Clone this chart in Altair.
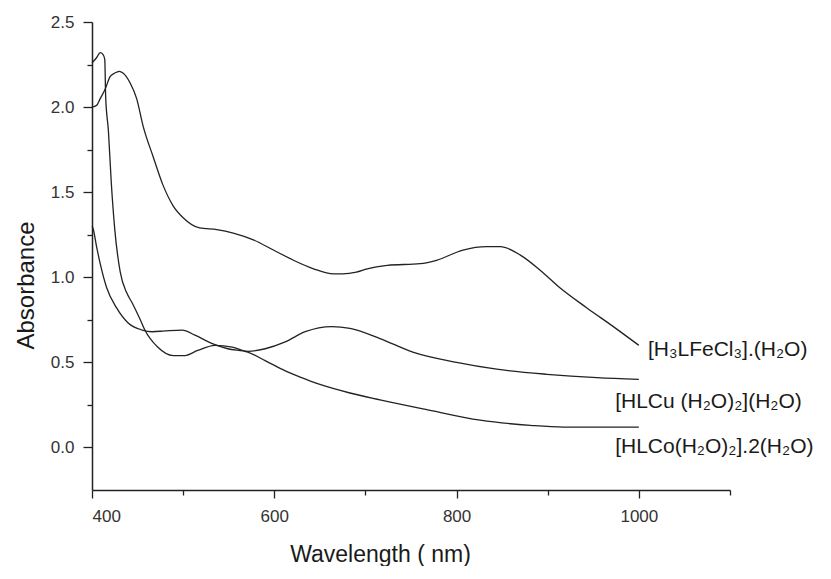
import altair as alt
import pandas as pd

# ---- data ----
fe_wl = [400, 405, 409, 414, 420, 425, 430, 434, 442, 449, 456, 467, 478, 489, 500, 518, 537,
         555, 577, 599, 621, 643, 665, 675, 690, 702, 724, 760, 778, 807, 833, 848, 870, 892,
         913, 943, 972, 1000]
fe_ab = [2.00, 2.01, 2.05, 2.10, 2.18, 2.20, 2.21, 2.20, 2.14, 2.05, 1.89, 1.71, 1.54, 1.42, 1.35,
         1.29, 1.28, 1.26, 1.22, 1.16, 1.10, 1.05, 1.02, 1.02, 1.03, 1.05, 1.07, 1.08, 1.10, 1.16,
         1.18, 1.18, 1.13, 1.04, 0.94, 0.82, 0.71, 0.60]

cu_wl = [400, 405, 409, 412, 414, 415, 418, 421, 425, 431, 438, 444, 453, 458, 472, 489, 502,
         516, 535, 554, 571, 590, 612, 634, 663, 683, 716, 752, 800, 844, 899, 954, 1000]
cu_ab = [2.26, 2.29, 2.32, 2.31, 2.28, 2.06, 1.86, 1.57, 1.28, 1.03, 0.91, 0.85, 0.75, 0.69,
         0.59, 0.54, 0.54, 0.57, 0.60, 0.59, 0.565, 0.58, 0.62, 0.68, 0.71, 0.70, 0.64, 0.56,
         0.50, 0.46, 0.43, 0.41, 0.40]

co_wl = [400, 401, 405, 409, 416, 427, 440, 455, 466, 480, 499, 513, 532, 549, 571, 590, 612,
         630, 650, 683, 716, 765, 826, 881, 917, 1000]
co_ab = [1.30, 1.29, 1.18, 1.08, 0.94, 0.82, 0.73, 0.69, 0.68, 0.685, 0.69, 0.66, 0.61, 0.58,
         0.56, 0.51, 0.45, 0.41, 0.37, 0.32, 0.28, 0.225, 0.16, 0.13, 0.12, 0.12]

series_names = ["Fe", "Cu", "Co"]

label_texts = ["[H\u2083LFeCl\u2083].(H\u2082O)",
               "[HLCu (H\u2082O)\u2082](H\u2082O)",
               "[HLCo(H\u2082O)\u2082].2(H\u2082O)"]
label_x = [1010, 974, 974]
label_y = [0.57, 0.27, 0.0]

x_ticks = [400, 500, 600, 700, 800, 900, 1000, 1100]
y_ticks = [0.0, 0.25, 0.5, 0.75, 1.0, 1.25, 1.5, 1.75, 2.0, 2.25, 2.5]

# ---- tables ----
rows = []
for name, wl, ab in zip(series_names, [fe_wl, cu_wl, co_wl], [fe_ab, cu_ab, co_ab]):
    for w, a in zip(wl, ab):
        rows.append({"series": name, "wavelength": w, "absorbance": a})
df = pd.DataFrame(rows)
labels_df = pd.DataFrame({"text": label_texts, "wavelength": label_x, "absorbance": label_y})

xscale = alt.Scale(domain=[400, 1100], nice=False, zero=False)
yscale = alt.Scale(domain=[-0.25, 2.5], nice=False, zero=False)

x_axis = alt.Axis(
    values=x_ticks, format="d",
    labelExpr="datum.value % 200 === 0 ? datum.label : ''",
    tickSize={"condition": {"test": "datum.value % 200 === 0", "value": 8}, "value": 5},
    title="Wavelength ( nm)", titleFontSize=23, titleFontWeight="normal", titleColor="#1a1a1a",
    titleX=288, titleY=71, titleAlign="center", titleBaseline="alphabetic",
    labelFontSize=17, labelPadding=10, labelColor="#333333",
    grid=False, domainColor="#222222", domainWidth=1.5, tickColor="#222222", tickWidth=1.3,
)
y_axis = alt.Axis(
    values=y_ticks, format=".1f",
    labelExpr="datum.value % 0.5 === 0 ? datum.label : ''",
    tickSize={"condition": {"test": "datum.value % 0.5 === 0", "value": 9}, "value": 5},
    title="Absorbance", titleFontSize=24, titleFontWeight="normal", titleColor="#1a1a1a",
    titleX=-59, titleY=263, titleAlign="center", titleBaseline="alphabetic", titleAngle=270,
    labelFontSize=17, labelPadding=9, labelColor="#333333",
    grid=False, domainColor="#222222", domainWidth=1.5, tickColor="#222222", tickWidth=1.3,
)

lines = alt.Chart(df).mark_line(color="#222222", strokeWidth=1.3, interpolate="monotone").encode(
    x=alt.X("wavelength:Q", scale=xscale, axis=x_axis),
    y=alt.Y("absorbance:Q", scale=yscale, axis=y_axis),
    detail="series:N",
)

texts = alt.Chart(labels_df).mark_text(
    align="left", baseline="middle", fontSize=21, color="#1a1a1a"
).encode(
    x=alt.X("wavelength:Q", scale=xscale),
    y=alt.Y("absorbance:Q", scale=yscale),
    text="text:N",
)

chart = alt.layer(lines, texts).properties(
    width=638, height=468,
    autosize=alt.AutoSizeParams(type="none"),
    padding={"left": 84, "top": 14, "right": 93, "bottom": 76},
).configure(
    font="Liberation Sans",
).configure_view(stroke=None)

chart.save("out.html", embed_options={"renderer": "svg", "actions": False})
